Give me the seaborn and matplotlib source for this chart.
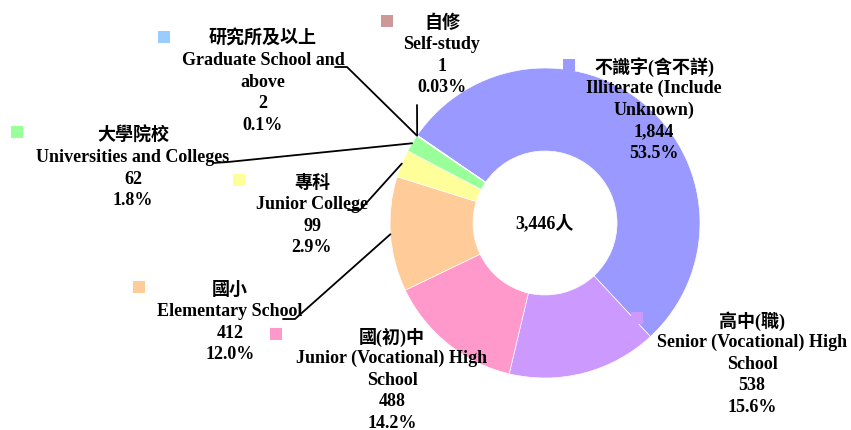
import numpy as np
import pandas as pd
import seaborn as sns
import matplotlib
matplotlib.use("Agg")
import matplotlib.pyplot as plt

# data
categories_zh = ["不識字(含不詳)", "高中(職)", "國(初)中", "國小", "專科", "大學院校", "研究所及以上", "自修"]
categories_en = ["Illiterate (Include\nUnknown)", "Senior (Vocational) High\nSchool",
                 "Junior (Vocational) High\nSchool", "Elementary School", "Junior College",
                 "Universities and Colleges", "Graduate School and\nabove", "Self-study"]
counts = [1844, 538, 488, 412, 99, 62, 2, 1]
pct_labels = ["53.5%", "15.6%", "14.2%", "12.0%", "2.9%", "1.8%", "0.1%", "0.03%"]
colors = ["#9999FF", "#CC99FF", "#FF99CC", "#FFCC99", "#FFFF99", "#99FF99", "#99CCFF", "#CC9999"]

W, H = 851, 430

# layout in pixel coords (y down): label centre x / first line y, marker centre, leader bends
label_xy = [(654, 67), (752, 321), (392, 337), (230, 290), (312, 183), (133, 136), (263, 39), (442, 23)]
marker_xy = [(569, 65), (637, 318), (276, 334), (139, 287), (239, 180), (17, 132), (164, 37), (387, 21)]
leader_pts = {3: [(283, 319), (295, 319)],
              4: [(348, 210), (360, 210)],
              5: [(213, 163), (228, 162)],
              6: [(335, 67), (347, 67)],
              7: [(417, 105)]}
line_step = 21.6


def py(y):
    return H - y


sns.set_theme(style="white")
plt.rcParams["font.family"] = ["Liberation Serif", "Noto Sans CJK TC"]
fs = 13

fig = plt.figure(figsize=(W / 100, H / 100), dpi=100)
ax = fig.add_axes([0, 0, 1, 1])

cx, cy, r = 545, py(223), 155
wedges, _ = ax.pie(counts, colors=colors, startangle=145.5, counterclock=False,
                   center=(cx, cy), radius=r,
                   wedgeprops=dict(width=83, edgecolor="white", linewidth=0.5))
ax.set_xlim(0, W)
ax.set_ylim(0, H)
ax.set_aspect("equal")
ax.axis("off")

ax.text(cx, cy, f"{sum(counts):,}人", ha="center", va="center",
        fontsize=fs, fontweight="bold", color="black")

for i, w in enumerate(wedges):
    lines = [categories_zh[i]] + categories_en[i].split("\n") + [f"{counts[i]:,}", pct_labels[i]]
    lx, ly = label_xy[i]
    for k, s in enumerate(lines):
        ax.text(lx, py(ly + k * line_step), s, ha="center", va="center",
                fontsize=fs, fontweight="bold", color="black")
    mx, my = marker_xy[i]
    ax.scatter([mx], [py(my)], marker="s", s=70, color=colors[i], linewidths=0, zorder=3)

    if i in leader_pts:
        mid = np.deg2rad((w.theta1 + w.theta2) / 2)
        ax_pt = (cx + r * np.cos(mid), cy + r * np.sin(mid))
        pts = [(x, py(y)) for x, y in leader_pts[i]] + [ax_pt]
        xs, ys = zip(*pts)
        ax.plot(xs, ys, color="black", linewidth=1.3, zorder=4)

fig.savefig("out.png", dpi=100)
